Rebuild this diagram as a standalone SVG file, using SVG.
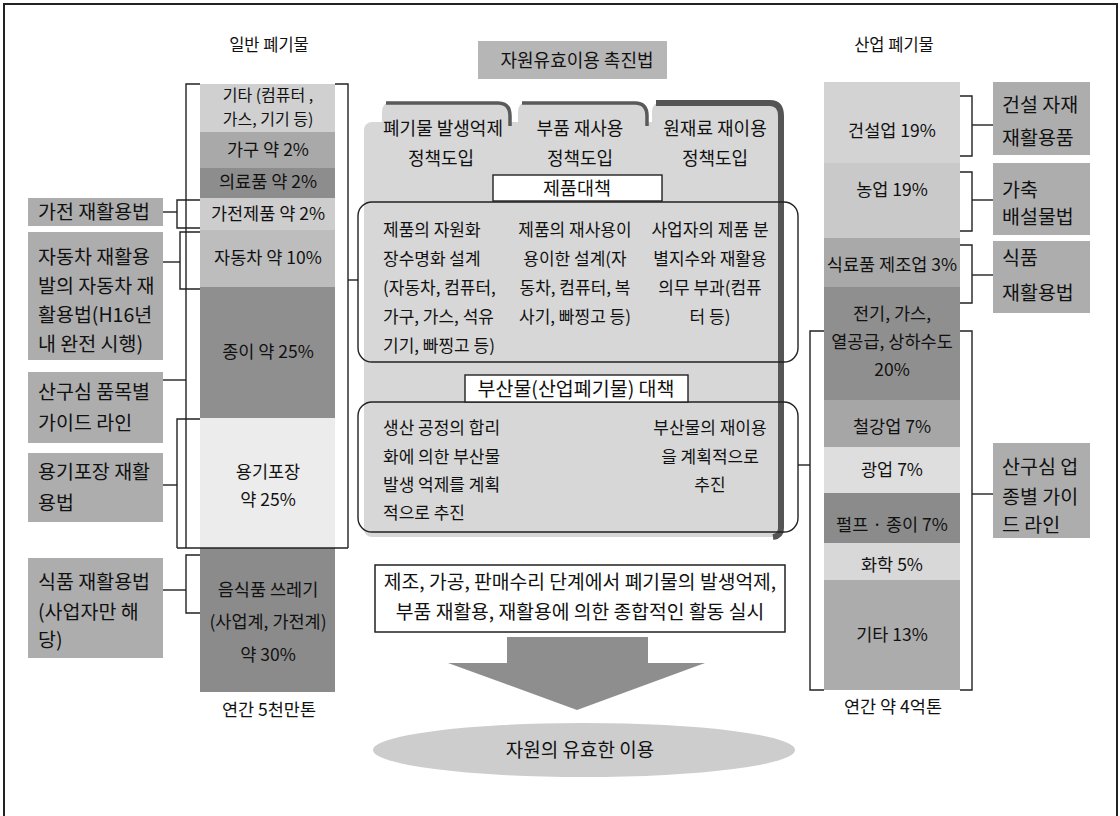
<svg xmlns="http://www.w3.org/2000/svg" width="1120" height="816" viewBox="0 0 1120 816">
<style>
text{font-family:"Noto Sans CJK KR","Noto Sans",sans-serif;fill:#111}
.c{text-anchor:middle}
.law{font-size:19.5px}
.stk{font-size:17.5px}
.ln{fill:none;stroke:#222;stroke-width:1.4}
.box{fill:none;stroke:#222;stroke-width:1.4}
.lawbox{fill:#adadad}
</style>
<rect width="1120" height="816" fill="#fff"/>
<g id="frame">
<path d="M4,816 V4 H1117 V816" fill="none" stroke="#222" stroke-width="2"/>
</g>

<g id="titles">
<text x="269" y="51" class="c" font-size="16.5">일반 폐기물</text>
<text x="894" y="51" class="c" font-size="16.5">산업 폐기물</text>
<text x="269" y="716" class="c" font-size="17.5">연간 5천만톤</text>
<text x="893" y="713" class="c" font-size="17.5">연간 약 4억톤</text>
</g>

<g id="general-stack">
<rect x="200" y="84" width="135" height="48" fill="#d0d0d0"/>
<rect x="200" y="132" width="135" height="36" fill="#a9a9a9"/>
<rect x="200" y="168" width="135" height="30" fill="#8d8d8d"/>
<rect x="200" y="198" width="135" height="32" fill="#cdcdcd"/>
<rect x="200" y="230" width="135" height="57" fill="#bdbdbd"/>
<rect x="200" y="287" width="135" height="131" fill="#8f8f8f"/>
<rect x="200" y="418" width="135" height="130" fill="#ececec"/>
<rect x="200" y="548" width="135" height="144" fill="#8b8b8b"/>
<g class="stk">
<text x="268" y="101" class="c" font-size="16">기타 (컴퓨터 ,</text>
<text x="268" y="125" class="c" font-size="16">가스, 기기 등)</text>
<text x="268" y="156" class="c">가구 약 2%</text>
<text x="268" y="188" class="c">의료품 약 2%</text>
<text x="268" y="220" class="c">가전제품 약 2%</text>
<text x="268" y="264" class="c">자동차 약 10%</text>
<text x="268" y="358" class="c">종이 약 25%</text>
<text x="268" y="478" class="c">용기포장</text>
<text x="268" y="506" class="c">약 25%</text>
<text x="268" y="596" class="c">음식품 쓰레기</text>
<text x="268" y="628" class="c">(사업계, 가전계)</text>
<text x="268" y="661" class="c">약 30%</text>
</g>
</g>

<g id="industrial-stack">
<rect x="824" y="82" width="136" height="81" fill="#d3d3d3"/>
<rect x="824" y="163" width="136" height="75" fill="#c9c9c9"/>
<rect x="824" y="238" width="136" height="49" fill="#a9a9a9"/>
<rect x="824" y="287" width="136" height="113" fill="#8f8f8f"/>
<rect x="824" y="400" width="136" height="47" fill="#a6a6a6"/>
<rect x="824" y="447" width="136" height="46" fill="#dedede"/>
<rect x="824" y="493" width="136" height="50" fill="#8b8b8b"/>
<rect x="824" y="543" width="136" height="37" fill="#d8d8d8"/>
<rect x="824" y="580" width="136" height="110" fill="#acacac"/>
<g class="stk">
<text x="892" y="137" class="c">건설업 19%</text>
<text x="892" y="196" class="c">농업 19%</text>
<text x="892" y="271" class="c">식료품 제조업 3%</text>
<text x="892" y="320" class="c">전기, 가스,</text>
<text x="892" y="348" class="c">열공급, 상하수도</text>
<text x="892" y="376" class="c">20%</text>
<text x="892" y="433" class="c">철강업 7%</text>
<text x="892" y="476" class="c">광업 7%</text>
<text x="892" y="531" class="c">펄프 · 종이 7%</text>
<text x="892" y="571" class="c">화학 5%</text>
<text x="892" y="641" class="c">기타 13%</text>
</g>
</g>

<g id="law-appliance">
<rect x="28" y="198" width="135" height="28" class="lawbox"/>
<text x="38" y="219" class="law">가전 재활용법</text>
</g>
<g id="law-car">
<rect x="28" y="232" width="135" height="128" class="lawbox"/>
<text x="38" y="264" class="law">자동차 재활용</text>
<text x="38" y="293" class="law">발의 자동차 재</text>
<text x="38" y="322" class="law">활용법(H16년</text>
<text x="38" y="351" class="law">내 완전 시행)</text>
</g>
<g id="law-guide-item">
<rect x="28" y="372" width="135" height="71" class="lawbox"/>
<text x="38" y="399" class="law">산구심 품목별</text>
<text x="38" y="430" class="law">가이드 라인</text>
</g>
<g id="law-package">
<rect x="28" y="453" width="135" height="69" class="lawbox"/>
<text x="38" y="479" class="law">용기포장 재활</text>
<text x="38" y="510" class="law">용법</text>
</g>
<g id="law-food-left">
<rect x="28" y="558" width="135" height="100" class="lawbox"/>
<text x="38" y="589" class="law">식품 재활용법</text>
<text x="38" y="619" class="law">(사업자만 해</text>
<text x="38" y="647" class="law">당)</text>
</g>

<g id="law-construction">
<rect x="993" y="82" width="97" height="73" class="lawbox"/>
<text x="1002" y="112" class="law">건설 자재</text>
<text x="1002" y="145" class="law">재활용품</text>
</g>
<g id="law-livestock">
<rect x="993" y="163" width="97" height="72" class="lawbox"/>
<text x="1002" y="197" class="law">가축</text>
<text x="1002" y="224" class="law">배설물법</text>
</g>
<g id="law-food-right">
<rect x="993" y="241" width="97" height="72" class="lawbox"/>
<text x="1002" y="265" class="law">식품</text>
<text x="1002" y="300" class="law">재활용법</text>
</g>
<g id="law-guide-industry">
<rect x="993" y="443" width="97" height="95" class="lawbox"/>
<text x="1002" y="474" class="law">산구심 업</text>
<text x="1002" y="504" class="law">종별 가이</text>
<text x="1002" y="532" class="law">드 라인</text>
</g>

<g id="central-title">
<rect x="478" y="41" width="189" height="38" fill="#b6b6b6"/>
<text x="577" y="67" class="c" font-size="18">자원유효이용 촉진법</text>
</g>

<g id="central-panel">
<rect x="364" y="122" width="420" height="415" rx="8" fill="#d7d7d7"/>
<path d="M382,130 V112 Q382,102 392,102 H498 Q510,102 510,116 V128 Z" fill="#d7d7d7"/>
<path d="M518,130 V112 Q518,102 528,102 H635 Q647,102 647,116 V128 Z" fill="#d7d7d7"/>
<path d="M652,130 V112 Q652,102 662,102 H770 Q783,102 783,116 V130 Z" fill="#d7d7d7"/>
<path d="M386,103 H498 Q510,103 510,116 V126" fill="none" stroke="#5a5a5a" stroke-width="3.5"/>
<path d="M522,103 H635 Q647,103 647,116 V126" fill="none" stroke="#5a5a5a" stroke-width="3.5"/>
<path d="M656,103 H770 Q781,103 781,116 V528 Q781,536 773,537" fill="none" stroke="#555" stroke-width="6"/>
<g font-size="18">
<text x="443" y="135" class="c">폐기물 발생억제</text>
<text x="441" y="165" class="c">정책도입</text>
<text x="580" y="135" class="c">부품 재사용</text>
<text x="580" y="165" class="c">정책도입</text>
<text x="715" y="135" class="c">원재료 재이용</text>
<text x="715" y="165" class="c">정책도입</text>
</g>
</g>

<g id="product-measures">
<rect x="358" y="202" width="440" height="160" rx="14" class="box"/>
<rect x="493" y="175" width="169" height="26" fill="#fff" stroke="#222" stroke-width="1.4"/>
<text x="577" y="195" class="c" font-size="18.5">제품대책</text>
<g font-size="17">
<text x="383" y="236">제품의 자원화</text>
<text x="383" y="265">장수명화 설계</text>
<text x="383" y="294">(자동차, 컴퓨터,</text>
<text x="383" y="323">가구, 가스, 석유</text>
<text x="383" y="352">기기, 빠찡고 등)</text>
<text x="575" y="236" class="c">제품의 재사용이</text>
<text x="575" y="265" class="c">용이한 설계(자</text>
<text x="575" y="294" class="c">동차, 컴퓨터, 복</text>
<text x="575" y="323" class="c">사기, 빠찡고 등)</text>
<text x="710" y="236" class="c">사업자의 제품 분</text>
<text x="710" y="265" class="c">별지수와 재활용</text>
<text x="710" y="294" class="c">의무 부과(컴퓨</text>
<text x="710" y="323" class="c">터 등)</text>
</g>
</g>

<g id="byproduct-measures">
<rect x="358" y="402" width="440" height="130" rx="14" class="box"/>
<rect x="465" y="375" width="223" height="27" fill="#fff" stroke="#222" stroke-width="1.4"/>
<text x="576" y="396" class="c" font-size="19.5">부산물(산업폐기물) 대책</text>
<g font-size="17">
<text x="383" y="434">생산 공정의 합리</text>
<text x="383" y="463">화에 의한 부산물</text>
<text x="383" y="491">발생 억제를 계획</text>
<text x="383" y="519">적으로 추진</text>
<text x="710" y="434" class="c">부산물의 재이용</text>
<text x="710" y="463" class="c">을 계획적으로</text>
<text x="710" y="491" class="c">추진</text>
</g>
</g>

<g id="activity">
<rect x="375" y="565" width="410" height="67" fill="#fff" stroke="#222" stroke-width="1.5"/>
<text x="580" y="589" class="c" font-size="19.3">제조, 가공, 판매수리 단계에서 폐기물의 발생억제,</text>
<text x="580" y="619" class="c" font-size="19.3">부품 재활용, 재활용에 의한 종합적인 활동 실시</text>
</g>

<g id="big-arrow">
<polygon points="507,637 648,637 648,663 705,663 577,710 448,663 507,663" fill="#8e8e8e"/>
</g>

<g id="result">
<ellipse cx="584" cy="750" rx="211" ry="27" fill="#cdcdcd"/>
<text x="580" y="757" class="c" font-size="19">자원의 유효한 이용</text>
</g>

<g id="connectors">
<polyline class="ln" points="200,84 186,84 186,548"/>
<polyline class="ln" points="335,84 348,84 348,548"/>
<line class="ln" x1="177" y1="548" x2="348" y2="548"/>
<polyline class="ln" points="200,200 177,200 177,228 200,228"/>
<line class="ln" x1="163" y1="212" x2="177" y2="212"/>
<polyline class="ln" points="200,232 180,232 180,289 200,289"/>
<line class="ln" x1="163" y1="262" x2="180" y2="262"/>
<line class="ln" x1="163" y1="380" x2="186" y2="380"/>
<polyline class="ln" points="200,419 177,419 177,548"/>
<line class="ln" x1="163" y1="485" x2="177" y2="485"/>
<polyline class="ln" points="200,555 186,555 186,613 200,613"/>
<line class="ln" x1="163" y1="590" x2="186" y2="590"/>
<line class="ln" x1="348" y1="280" x2="358" y2="280"/>
<polyline class="ln" points="960,96 972,96 972,156 960,156"/>
<line class="ln" x1="972" y1="125" x2="993" y2="125"/>
<polyline class="ln" points="960,172 972,172 972,231 960,231"/>
<line class="ln" x1="972" y1="200" x2="993" y2="200"/>
<polyline class="ln" points="960,245 972,245 972,303 960,303"/>
<line class="ln" x1="972" y1="275" x2="993" y2="275"/>
<polyline class="ln" points="824,331 810,331 810,690 824,690"/>
<polyline class="ln" points="960,331 972,331 972,690 960,690"/>
<line class="ln" x1="798" y1="465" x2="810" y2="465"/>
<line class="ln" x1="972" y1="494" x2="993" y2="494"/>
</g>
</svg>
